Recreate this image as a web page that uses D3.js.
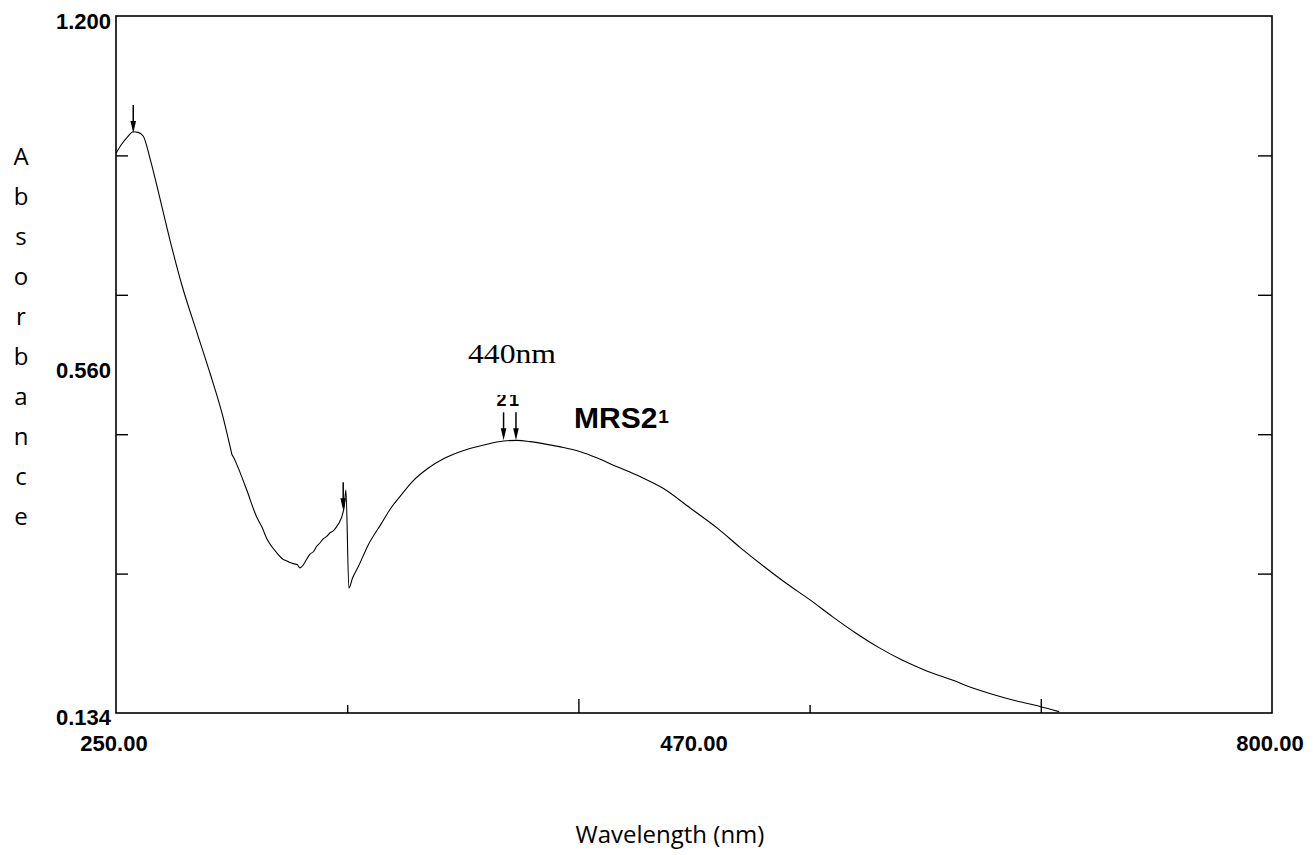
<!DOCTYPE html>
<html><head><meta charset="utf-8">
<script src="https://cdn.jsdelivr.net/npm/d3@7"></script>
<style>body{margin:0;background:#fff;} svg{display:block;}</style>
</head><body>
<svg id="c" width="1313" height="855"></svg>
<script>
// ---- data ----
const wavelength = [250.0, 252.5, 255.5, 258.2, 260.5, 263.0, 266.2, 270.9, 275.7, 281.3, 288.4, 294.7, 300.9, 304.6, 305.2, 305.8, 308.0, 312.2, 316.9, 319.5, 321.7, 324.0, 326.5, 329.5, 331.0, 332.8, 335.0, 336.2, 337.5, 339.0, 340.5, 342.3, 344.0, 345.5, 347.0, 348.5, 350.2, 352.0, 353.5, 355.0, 356.5, 357.6, 358.6, 359.4, 360.8, 362.5, 365.3, 370.0, 376.3, 380.5, 385.1, 391.0, 398.3, 406.5, 415.8, 425.0, 434.4, 441.0, 447.0, 453.1, 461.5, 470.6, 479.0, 488.1, 499.0, 510.1, 523.0, 536.4, 547.0, 558.3, 569.0, 580.2, 591.0, 602.1, 613.0, 624.0, 636.0, 648.2, 658.0, 667.7, 679.0, 689.6, 698.7];
const absorbance = [0.990, 1.003, 1.015, 1.023, 1.022, 1.016, 0.982, 0.921, 0.857, 0.789, 0.717, 0.654, 0.587, 0.537, 0.529, 0.526, 0.510, 0.475, 0.434, 0.418, 0.401, 0.389, 0.379, 0.369, 0.367, 0.364, 0.362, 0.361, 0.356, 0.360, 0.368, 0.377, 0.381, 0.389, 0.394, 0.400, 0.404, 0.410, 0.413, 0.419, 0.427, 0.436, 0.450, 0.475, 0.325, 0.340, 0.358, 0.391, 0.424, 0.446, 0.465, 0.488, 0.508, 0.524, 0.536, 0.544, 0.550, 0.551, 0.549, 0.546, 0.541, 0.534, 0.524, 0.511, 0.496, 0.478, 0.448, 0.416, 0.387, 0.358, 0.332, 0.307, 0.281, 0.256, 0.234, 0.215, 0.198, 0.184, 0.172, 0.162, 0.152, 0.144, 0.136];
const xDomain = [250, 800];
const yDomain = [0.134, 1.200];
const xTicks = [360, 470, 580, 690];
const yTicks = [0.9868, 0.7736, 0.5604, 0.3472];
const xTickLabels = ["250.00", "470.00", "800.00"];
const yTickLabels = ["1.200", "0.560", "0.134"];
const peakNm = [258.2, 358.1, 434.4, 440.3];
const peakAbs = [1.021, 0.444, 0.551, 0.551];
const peakNumbers = ["", "", "2", "1"];
const sampleName = "MRS2";
const sampleSup = "1";
const peakNote = "440nm";
const xTitle = "Wavelength (nm)";
const yTitle = "Absorbance";

// ---- layout ----
const svg = d3.select("#c");
const m = {left: 116, top: 16, right: 41, bottom: 142};
const W = 1313 - m.left - m.right, H = 855 - m.top - m.bottom;
const x = d3.scaleLinear().domain(xDomain).range([m.left, m.left + W]);
const y = d3.scaleLinear().domain(yDomain).range([m.top + H, m.top]);
const labelFont = "'Liberation Sans', Arial, sans-serif";
const titleFont = "'Open Sans', 'Noto Sans', sans-serif";

// frame
svg.append("rect").attr("x", m.left).attr("y", m.top).attr("width", W).attr("height", H)
  .attr("fill", "none").attr("stroke", "#000").attr("stroke-width", 1.6);

// bottom ticks (inward, alternating length)
const bx = svg.append("g").attr("transform", `translate(0,${m.top + H})`)
  .call(d3.axisBottom(x).tickValues(xTicks).tickFormat("").tickSizeOuter(0));
bx.select(".domain").remove();
bx.selectAll(".tick line").attr("y2", (d, i) => i % 2 === 0 ? -8 : -14).attr("stroke-width", 1.4);

// left ticks
const ly = svg.append("g").attr("transform", `translate(${m.left},0)`)
  .call(d3.axisLeft(y).tickValues(yTicks).tickFormat("").tickSizeInner(-12).tickSizeOuter(0));
ly.select(".domain").remove();
ly.selectAll(".tick line").attr("stroke-width", 1.4);

// right ticks
const ry = svg.append("g").attr("transform", `translate(${m.left + W},0)`)
  .call(d3.axisRight(y).tickValues(yTicks).tickFormat("").tickSizeInner(-14).tickSizeOuter(0));
ry.select(".domain").remove();
ry.selectAll(".tick line").attr("stroke-width", 1.4);

// tick labels: start, middle, end of each axis (as on the instrument printout)
const xr = x.range(), yr = y.range();
const xLabPos = [xr[0] - 2, (xr[0] + xr[1]) / 2, xr[1] - 2];
svg.selectAll(".xl").data(xTickLabels).enter().append("text")
  .attr("x", (d, i) => xLabPos[i]).attr("y", m.top + H + 38)
  .attr("text-anchor", "middle").attr("font-family", labelFont).attr("font-weight", "bold")
  .attr("font-size", 22).text(d => d);
const yLabPos = [yr[1], (yr[0] + yr[1]) / 2, yr[0] - 1];
svg.selectAll(".yl").data(yTickLabels).enter().append("text")
  .attr("x", m.left - 5).attr("y", (d, i) => yLabPos[i] + 13)
  .attr("text-anchor", "end").attr("font-family", labelFont).attr("font-weight", "bold")
  .attr("font-size", 22).text(d => d);

// axis titles
svg.append("text").attr("x", 670).attr("y", 843).attr("text-anchor", "middle")
  .attr("font-family", titleFont).attr("font-size", 24).text(xTitle);
svg.selectAll(".yt").data(yTitle.split("")).enter().append("text")
  .attr("x", 21).attr("y", (d, i) => 165 + i * 40).attr("text-anchor", "middle")
  .attr("font-family", titleFont).attr("font-size", 24).text(d => d);

// spectrum
const pts = wavelength.map((w, i) => [w, absorbance[i]]);
svg.append("path").datum(pts)
  .attr("d", d3.line().curve(d3.curveMonotoneX).x(d => x(d[0])).y(d => y(d[1])))
  .attr("fill", "none").attr("stroke", "#000").attr("stroke-width", 1.1);

// peak arrows
const ar = svg.append("g");
peakNm.forEach((w, i) => {
  const px = x(w), py = y(peakAbs[i]);
  ar.append("line").attr("x1", px).attr("x2", px).attr("y1", py - 28).attr("y2", py - 6)
    .attr("stroke", "#000").attr("stroke-width", 1.5);
  ar.append("path").attr("d", `M${px - 2.8},${py - 12}L${px + 2.8},${py - 12}L${px},${py}Z`).attr("fill", "#000");
});
// peak numbers (top partly cut off as in the print)
svg.append("defs").append("clipPath").attr("id", "numclip")
  .append("rect").attr("x", 0).attr("y", 395).attr("width", 1313).attr("height", 100);
svg.append("g").attr("clip-path", "url(#numclip)")
  .selectAll("text").data(peakNm.map((w, i) => [w, peakAbs[i], peakNumbers[i]]).filter(d => d[2]))
  .enter().append("text")
  .attr("x", d => x(d[0]) - 2).attr("y", d => y(d[1]) - 34)
  .attr("text-anchor", "middle").attr("font-family", labelFont).attr("font-weight", "bold")
  .attr("font-size", 18).text(d => d[2]);

// annotations
svg.append("text").attr("x", 468).attr("y", 363).attr("font-family", "'Liberation Serif', 'Times New Roman', serif")
  .attr("font-size", 28).attr("textLength", 88).attr("lengthAdjust", "spacingAndGlyphs").text(peakNote);
const st = svg.append("text").attr("x", 574).attr("y", 428).attr("font-family", labelFont)
  .attr("font-weight", "bold").attr("font-size", 30);
st.append("tspan").text(sampleName);
st.append("tspan").attr("font-size", 19).attr("dy", -5).attr("dx", 1).text(sampleSup);
</script>
</body></html>
